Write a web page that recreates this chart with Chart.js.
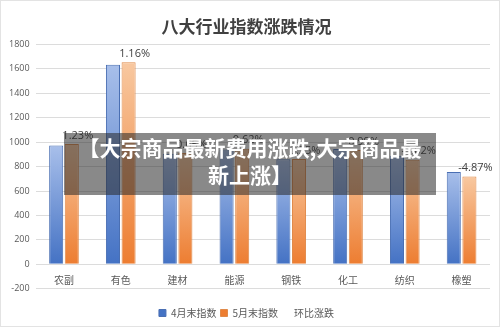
<!DOCTYPE html>
<html>
<head>
<meta charset="utf-8">
<script src="https://cdn.jsdelivr.net/npm/chart.js@4"></script>
<style>
  body { margin: 0; background: #fff; }
  #wrap { position: relative; width: 498px; height: 325px; border: 1px solid #e3e3e3; overflow: hidden; }
  #banner {
    position: absolute; left: 63px; top: 132px; width: 372px; height: 62px;
    background: rgba(40, 40, 40, 0.55); color: #fff;
    font: bold 21px "Noto Sans CJK SC", sans-serif; line-height: 27px;
    text-align: center; padding-top: 1px; box-sizing: border-box;
  }
</style>
</head>
<body>
<div id="wrap">
  <canvas id="bar-chart" width="498" height="325"></canvas>
  <div id="banner">【大宗商品最新费用涨跌,大宗商品最<br>新上涨】</div>
</div>
<script>
//Data
var industries = ['农副', '有色', '建材', '能源', '钢铁', '化工', '纺织', '橡塑'];
var aprilIndex = [972, 1634, 905, 940, 860, 945, 888, 755];
var mayIndex = [984, 1653, 911, 946, 863, 936, 856, 718];
var changes = ['1.23%', '1.16%', '0.65%', '0.62%', '0.35%', '-0.99%', '-3.62%', '-4.87%'];

//Gradient fill for the bars
function barFill(top, bottom) {
  return function (ctx) {
    var area = ctx.chart.chartArea;
    var y = ctx.chart.scales.y;
    if (ctx.type !== 'data' || !area || !y) return bottom;
    var y0 = y.getPixelForValue(ctx.raw);
    var y1 = y.getPixelForValue(0);
    if (!isFinite(y0) || !isFinite(y1)) return bottom;
    var g = ctx.chart.ctx.createLinearGradient(0, y0, 0, y1);
    g.addColorStop(0, top);
    g.addColorStop(1, bottom);
    return g;
  };
}

//Percent labels above the orange bars
var changeLabels = {
  id: 'changeLabels',
  afterDatasetsDraw: function (chart) {
    var c = chart.ctx;
    var bars = chart.getDatasetMeta(1).data;
    c.save();
    c.font = '11px "Open Sans", sans-serif';
    c.fillStyle = '#404040';
    c.textAlign = 'center';
    c.textBaseline = 'bottom';
    bars.forEach(function (bar, i) {
      c.fillText(changes[i], bar.x + 6, bar.y - 3);
    });
    c.restore();
  }
};

new Chart(document.getElementById('bar-chart'), {
  type: 'bar',
  data: {
    labels: industries,
    datasets: [{
      label: '4月末指数',
      data: aprilIndex,
      backgroundColor: barFill('#a8bfea', '#4472c4'),
      borderColor: '#4a6fb3',
      borderWidth: 1
    }, {
      label: '5月末指数',
      data: mayIndex,
      backgroundColor: barFill('#f8c8a0', '#ed7d31'),
      borderColor: '#e08a4a',
      borderWidth: 1
    }, {
      type: 'line',
      label: '环比涨跌',
      data: [],
      borderColor: 'transparent',
      backgroundColor: 'transparent',
      pointRadius: 0
    }]
  },
  options: {
    responsive: false,
    animation: false,
    categoryPercentage: 0.55,
    barPercentage: 0.9,
    layout: { padding: { left: 2, right: 9, bottom: -2 } },
    plugins: {
      title: {
        display: true,
        text: '八大行业指数涨跌情况',
        color: '#404040',
        font: { family: '"Noto Sans CJK SC"', size: 17, weight: 'bold' },
        padding: { top: 15, bottom: 8 }
      },
      legend: {
        position: 'bottom',
        title: { display: true, text: '', font: { size: 1 }, padding: { top: 14, bottom: 0 } },
        labels: {
          boxWidth: 7, boxHeight: 7, padding: 4,
          color: '#595959',
          font: { family: '"Noto Sans CJK SC"', size: 10 }
        }
      },
      tooltip: { enabled: false }
    },
    scales: {
      x: {
        position: { y: 0 },
        grid: { display: false, drawTicks: false },
        border: { display: false },
        ticks: { color: '#595959', padding: 10, font: { family: '"Noto Sans CJK SC"', size: 10 } }
      },
      y: {
        min: -200,
        max: 1800,
        ticks: {
          stepSize: 200, color: '#595959', padding: 6,
          font: { family: '"Open Sans"', size: 9 },
          callback: function (v) { return String(v); }
        },
        grid: { color: '#dcdcdc', drawTicks: false },
        border: { display: false }
      }
    }
  },
  plugins: [changeLabels]
});
</script>
</body>
</html>
